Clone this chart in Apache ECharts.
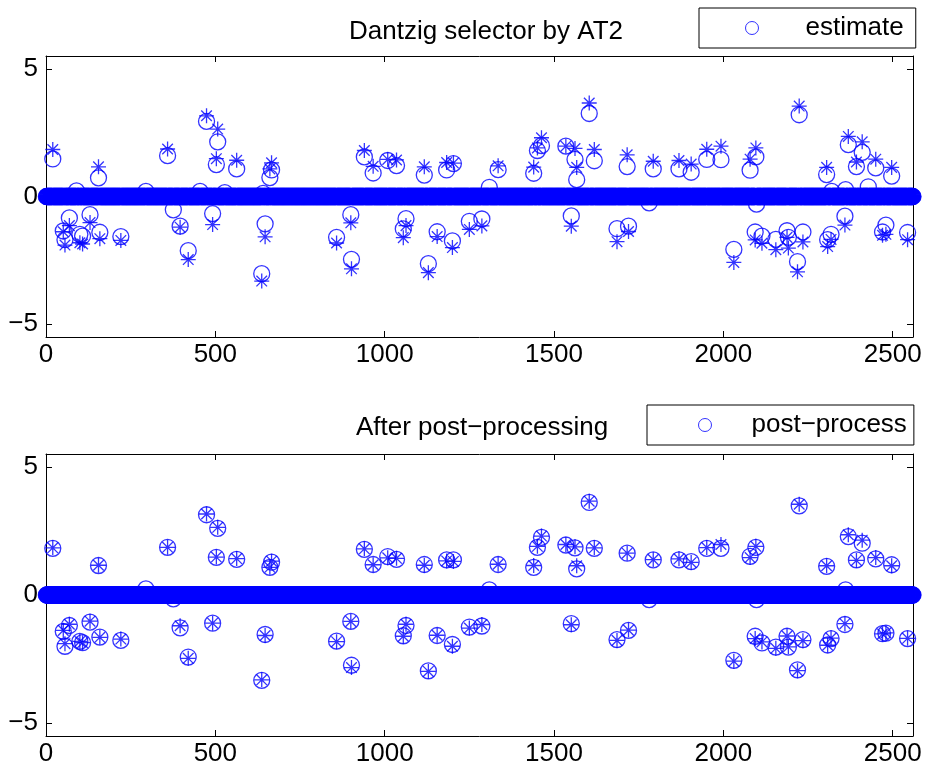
<!DOCTYPE html>
<html>
<head>
<meta charset="utf-8">
<script src="https://cdn.jsdelivr.net/npm/echarts@6/dist/echarts.min.js"></script>
<style>
html,body{margin:0;padding:0;background:#fff;}
#chart{width:927px;height:776px;}
</style>
</head>
<body>
<div id="chart"></div>
<script>
// ---- data ----
const N = 2560; // signal length (all entries not listed below are 0)
const spikeIdx = [20,51,56,69,100,108,130,155,159,221,359,396,420,474,492,503,507,563,637,647,661,666,858,900,902,940,966,1009,1035,1055,1063,1117,1129,1155,1183,1200,1203,1250,1287,1335,1440,1451,1463,1535,1551,1562,1567,1604,1619,1686,1716,1720,1793,1869,1905,1951,1993,2031,2079,2094,2096,2114,2155,2188,2192,2219,2224,2235,2305,2308,2318,2359,2369,2393,2410,2450,2470,2480,2497,2544];
const trueVals = [1.84,-1.38,-1.9,-1.14,-1.81,-1.86,-1.02,1.16,-1.65,-1.72,1.86,-1.2,-2.47,3.16,-1.1,1.48,2.64,1.42,-3.31,-1.58,1.08,1.32,-1.82,-1.03,-2.83,1.8,1.18,1.45,1.43,-1.61,-1.14,1.16,-2.98,-1.57,1.33,-2.0,1.31,-1.29,-1.15,1.2,1.15,1.9,2.3,1.97,-1.16,1.88,1.14,3.66,1.84,-1.77,1.63,-1.37,1.38,1.41,1.27,1.85,1.97,-2.58,1.46,-1.7,1.9,-1.83,-2.08,-1.6,-2.02,-2.95,3.54,-1.78,1.14,-1.96,-1.68,-1.12,2.35,1.35,2.14,1.46,-1.52,-1.48,1.14,-1.69];
const estVals = [1.47,-1.35,-1.69,-0.84,-1.48,-1.55,-0.71,0.73,-1.4,-1.57,1.6,-1.16,-2.12,2.94,-0.67,1.25,2.14,1.08,-3.02,-1.07,0.74,1.04,-1.6,-0.71,-2.46,1.55,0.92,1.41,1.21,-1.27,-0.87,0.84,-2.63,-1.38,1.04,-1.74,1.29,-0.97,-0.88,1.05,0.91,1.8,1.99,1.97,-0.76,1.45,0.66,3.25,1.4,-1.26,1.17,-1.16,1.08,1.08,0.95,1.45,1.44,-2.07,1.03,-1.39,1.55,-1.55,-1.68,-1.34,-1.6,-2.55,3.2,-1.39,0.86,-1.69,-1.48,-0.77,2.03,1.17,1.73,1.12,-1.39,-1.12,0.8,-1.41];
const postVals = [1.82,-1.42,-2.0,-1.19,-1.81,-1.86,-1.06,1.15,-1.64,-1.77,1.86,-1.28,-2.42,3.13,-1.1,1.47,2.6,1.39,-3.33,-1.54,1.08,1.28,-1.8,-1.03,-2.74,1.78,1.19,1.5,1.39,-1.59,-1.19,1.19,-2.96,-1.58,1.37,-1.93,1.37,-1.25,-1.21,1.19,1.08,1.86,2.25,1.95,-1.12,1.84,1.02,3.61,1.82,-1.74,1.63,-1.38,1.37,1.37,1.3,1.82,1.82,-2.55,1.51,-1.61,1.86,-1.87,-2.03,-1.61,-2.03,-2.92,3.48,-1.74,1.12,-1.95,-1.7,-1.15,2.28,1.37,2.02,1.41,-1.51,-1.49,1.18,-1.7];
// small spurious entries of the estimates
const estExtraIdx = [90,295,376,455,528,641,1309,1781,2098,2320,2361,2428];
const estExtraVals = [0.22,0.2,-0.52,0.2,0.15,0.12,0.36,-0.25,-0.3,0.2,0.27,0.38];
const postExtraIdx = [295,376,1309,1781,2098,2361];
const postExtraVals = [0.24,-0.15,0.2,-0.18,-0.18,0.2];
const xTicks = [0,500,1000,1500,2000,2500];
const yTicks = [-5,0,5];

// ---- build full vectors ----
function buildVector(idx, vals, extraIdx, extraVals){
  const v = new Array(N).fill(0);
  idx.forEach((k,i)=>{ v[k-1] = vals[i]; });
  if (extraIdx) extraIdx.forEach((k,i)=>{ v[k-1] = extraVals[i]; });
  return v.map((y,i)=>[i+1, y]);
}
const trueData = buildVector(spikeIdx, trueVals);
const estData = buildVector(spikeIdx, estVals, estExtraIdx, estExtraVals);
const postData = buildVector(spikeIdx, postVals, postExtraIdx, postExtraVals);

const FONT = "'Liberation Sans',Arial,sans-serif";
const FS = 26;
const BLUE = '#0000ff';
const STAR = 'path://M0,-1L0,1M-1,0L1,0M-0.7071,-0.7071L0.7071,0.7071M-0.7071,0.7071L0.7071,-0.7071';

const grids = [
  {left:46, top:56, width:867, height:281},
  {left:46, top:454, width:867, height:282}
];

function xAx(gi, pos){
  return {
    type:'value', gridIndex:gi, position:pos, min:0, max:N, interval:500,
    axisLine:{show:true, onZero:false, lineStyle:{color:'#000', width:1}},
    axisTick:{show:true, inside:true, length:6, lineStyle:{color:'#000'}, customValues: xTicks},
    axisLabel:{show: pos==='bottom', color:'#000', fontSize:FS, fontFamily:FONT, margin:5, customValues: xTicks,
      formatter: v => String(v)},
    splitLine:{show:false}
  };
}
function yAx(gi, pos){
  return {
    type:'value', gridIndex:gi, position:pos, min:-5.5, max:5.5,
    axisLine:{show:true, onZero:false, lineStyle:{color:'#000', width:1}},
    axisTick:{show:true, inside:true, length:6, lineStyle:{color:'#000'}, customValues: yTicks},
    axisLabel:{show: pos==='left', color:'#000', fontSize:FS, fontFamily:FONT, margin:8, customValues: yTicks,
      formatter: v => (v<0 ? '\u2212' + Math.abs(v) : String(v))},
    splitLine:{show:false}
  };
}

function circleSeries(name, data, xi, yi){
  return {
    name, type:'scatter', data, xAxisIndex:xi, yAxisIndex:yi, clip:false,
    symbol:'circle', symbolSize:16,
    itemStyle:{color:'rgba(0,0,0,0)', borderColor:BLUE, borderWidth:1.3},
    emphasis:{disabled:true}, progressive:0, silent:true, z:3
  };
}
function starSeries(name, data, xi, yi){
  return {
    name, type:'scatter', data, xAxisIndex:xi, yAxisIndex:yi, clip:false,
    symbol:STAR, symbolSize:15,
    itemStyle:{color:'rgba(0,0,0,0)', borderColor:BLUE, borderWidth:1.3},
    emphasis:{disabled:true}, progressive:0, silent:true, z:2
  };
}

const legendCommon = {
  orient:'horizontal', itemWidth:13, itemHeight:13,
  borderColor:'#000', borderWidth:1, backgroundColor:'#fff', selectedMode:false
};

const chart = echarts.init(document.getElementById('chart'), null, {renderer:'canvas'});
chart.setOption({
  animation:false,
  backgroundColor:'#fff',
  title:[
    {text:'Dantzig selector by AT2', left:481, top:14, textAlign:'center',
      textStyle:{fontSize:FS, fontWeight:'normal', color:'#000', fontFamily:FONT}},
    {text:'After post\u2212processing', left:477, top:410, textAlign:'center',
      textStyle:{fontSize:FS, fontWeight:'normal', color:'#000', fontFamily:FONT}}
  ],
  legend:[
    Object.assign({}, legendCommon, {
      data:[{name:'estimate', icon:'circle', itemStyle:{color:'rgba(0,0,0,0)', borderColor:BLUE, borderWidth:1}}],
      left:699, top:8, padding:[7,12,7,46],
      textStyle:{fontSize:FS, color:'#000', fontFamily:FONT, padding:[0,0,0,42]}}),
    Object.assign({}, legendCommon, {
      data:[{name:'post\u2212process', icon:'circle', itemStyle:{color:'rgba(0,0,0,0)', borderColor:BLUE, borderWidth:1}}],
      left:647, top:405, padding:[7,7,7,51],
      textStyle:{fontSize:FS, color:'#000', fontFamily:FONT, padding:[0,0,0,35]}})
  ],
  grid: grids,
  xAxis:[xAx(0,'bottom'), xAx(0,'top'), xAx(1,'bottom'), xAx(1,'top')],
  yAxis:[yAx(0,'left'), yAx(0,'right'), yAx(1,'left'), yAx(1,'right')],
  series:[
    starSeries('true', trueData, 0, 0),
    circleSeries('estimate', estData, 0, 0),
    starSeries('true2', trueData, 2, 2),
    circleSeries('post\u2212process', postData, 2, 2)
  ]
});
</script>
</body>
</html>
